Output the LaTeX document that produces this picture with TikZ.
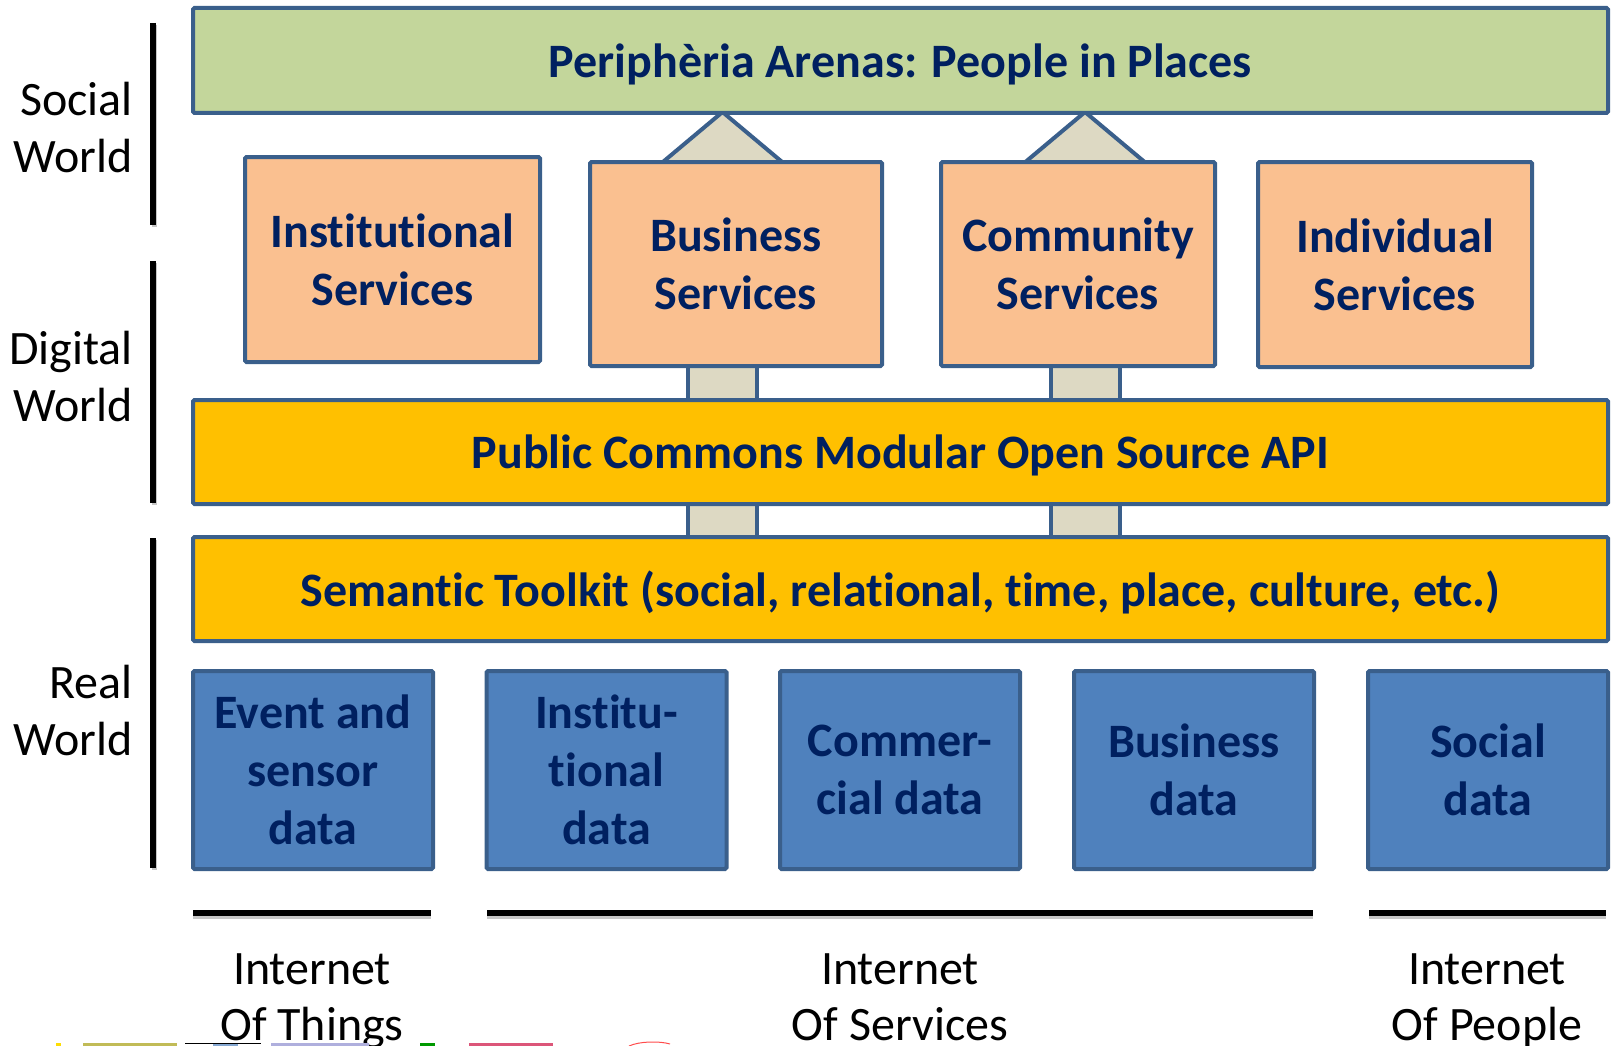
\documentclass[tikz,border=0pt]{standalone}
\usepackage{fontspec}
\setmainfont[Ligatures=NoCommon]{Carlito}
\usetikzlibrary{calc}
\definecolor{bord}{HTML}{3A5F8B}
\definecolor{greenf}{HTML}{C3D69B}
\definecolor{orangef}{HTML}{FAC090}
\definecolor{goldf}{HTML}{FFC000}
\definecolor{bluef}{HTML}{4F81BD}
\definecolor{beigef}{HTML}{DDD9C3}
\definecolor{navy}{HTML}{002060}
\begin{document}
\begin{tikzpicture}[x=1pt,y=-1pt,
  box/.style={draw=bord, line width=4pt, inner sep=0pt, outer sep=0pt, align=center,
    rounded corners=1.5pt, text=navy, font=\fontsize{48}{58}\selectfont\bfseries},
  greenbox/.style={box, fill=greenf, text depth=0pt},
  orbox/.style={box, fill=orangef},
  goldbox/.style={box, fill=goldf, text depth=0pt},
  bluebox/.style={box, fill=bluef, minimum width=240pt, minimum height=198pt},
  stem/.style={draw=bord, line width=4pt, fill=beigef, line join=miter},
  lab/.style={inner sep=0pt, align=right, anchor=east, font=\fontsize{48}{57}\selectfont},
  blab/.style={inner sep=0pt, align=center, font=\fontsize{48}{56}\selectfont},
  bracket/.style={line width=5.5pt, black},
  bshadow/.style={line width=5.5pt, black!22},
]
\useasboundingbox (0,0) rectangle (1616,1046);
\clip (0,0) rectangle (1616,1046);

% connector reference coordinates
\coordinate (bx) at (722.5,0);
\coordinate (cx) at (1085,0);
\coordinate (arenabot) at (0,112);
\coordinate (srvtop) at (0,164);
\coordinate (srvbot) at (0,364);
\coordinate (apitop) at (0,402);
\coordinate (apibot) at (0,502);
\coordinate (semtop) at (0,539);

% connectors (behind the boxes)
\foreach \c in {bx,cx}{
  \draw[stem] ([xshift=-62pt]\c |- srvtop) -- (\c |- arenabot) -- ([xshift=62pt]\c |- srvtop);
  \draw[stem] ([xshift=-34.5pt]\c |- srvbot) rectangle ([xshift=34.5pt]\c |- apitop);
  \draw[stem] ([xshift=-34.5pt]\c |- apibot) rectangle ([xshift=34.5pt]\c |- semtop);
}

% boxes
\path
  node[greenbox, minimum width=1415pt, minimum height=105pt] (arena) at (900.5,60.5) {Periphèria Arenas: People in Places}
  node[orbox, minimum width=295pt, minimum height=205pt] (inst) at (392.5,259.5) {Institutional\\Services}
  node[orbox, minimum width=292pt, minimum height=204pt] (bus) at (736,264) {Business\\Services}
  node[orbox, minimum width=274pt, minimum height=204pt] (comm) at (1078,264) {Community\\Services}
  node[orbox, minimum width=274pt, minimum height=205pt] (indiv) at (1395,264.5) {Individual\\Services}
  node[goldbox, minimum width=1415pt, minimum height=104pt] (api) at (900.5,452) {Public Commons Modular Open Source API}
  node[goldbox, minimum width=1415pt, minimum height=104pt] (sem) at (900.5,589) {Semantic Toolkit (social, relational, time, place, culture, etc.)}
  node[bluebox] (ev) at (313,770) {Event and\\sensor\\data}
  node[bluebox] (instd) at (606.5,770) {Institu-\\tional\\data}
  node[bluebox] (comd) at (900,770) {Commer-\\cial data}
  node[bluebox] (busd) at (1194,770) {Business\\data}
  node[bluebox] (socd) at (1488,770) {Social\\data};

% left world labels and brackets
\node[lab] (sw) at (133,127) {Social\\World};
\node[lab] (dw) at (133,376.5) {Digital\\World};
\node[lab] (rw) at (133,710) {Real\\World};
\draw[bshadow] (154.5,25) -- (154.5,227);
\draw[bshadow] (154.5,263) -- (154.5,505);
\draw[bshadow] (154.5,540) -- (154.5,870);
\draw[bracket] (153,23) -- (153,225);
\draw[bracket] (153,261) -- (153,503);
\draw[bracket] (153,538) -- (153,868);

% bottom brackets and labels
\draw[bshadow] (193,916) -- (431,916);
\draw[bshadow] (487,916) -- (1313,916);
\draw[bshadow] (1369,916) -- (1606,916);
\draw[bracket] (193,913) -- (431,913);
\draw[bracket] (487,913) -- (1313,913);
\draw[bracket] (1369,913) -- (1606,913);
\node[blab] (iot) at (312,1001) {Internet\\Of Things};
\node[blab] (ios) at (900,1001) {Internet\\Of Services\vphantom{g}};
\node[blab] (iop) at (1487,1001) {Internet\\Of People};

% clipped picture fragments at the bottom edge
\fill[yellow!80!orange] (56,1043) rectangle (61,1046);
\fill[olive!55!white] (83,1043) rectangle (177,1046);
\draw[black, line width=1pt] (185,1043.5) -- (261,1043.5);
\fill[bluef!70] (213,1044) rectangle (238,1046);
\fill[gray!60!blue!45] (271,1043) rectangle (369,1046);
\fill[green!60!black] (420,1043) rectangle (435,1046);
\fill[purple!55!pink] (469,1043) rectangle (553,1046);
\draw[red!70, line width=1pt] (629,1046) .. controls (640,1041) and (660,1041) .. (670,1044);
\end{tikzpicture}
\end{document}
